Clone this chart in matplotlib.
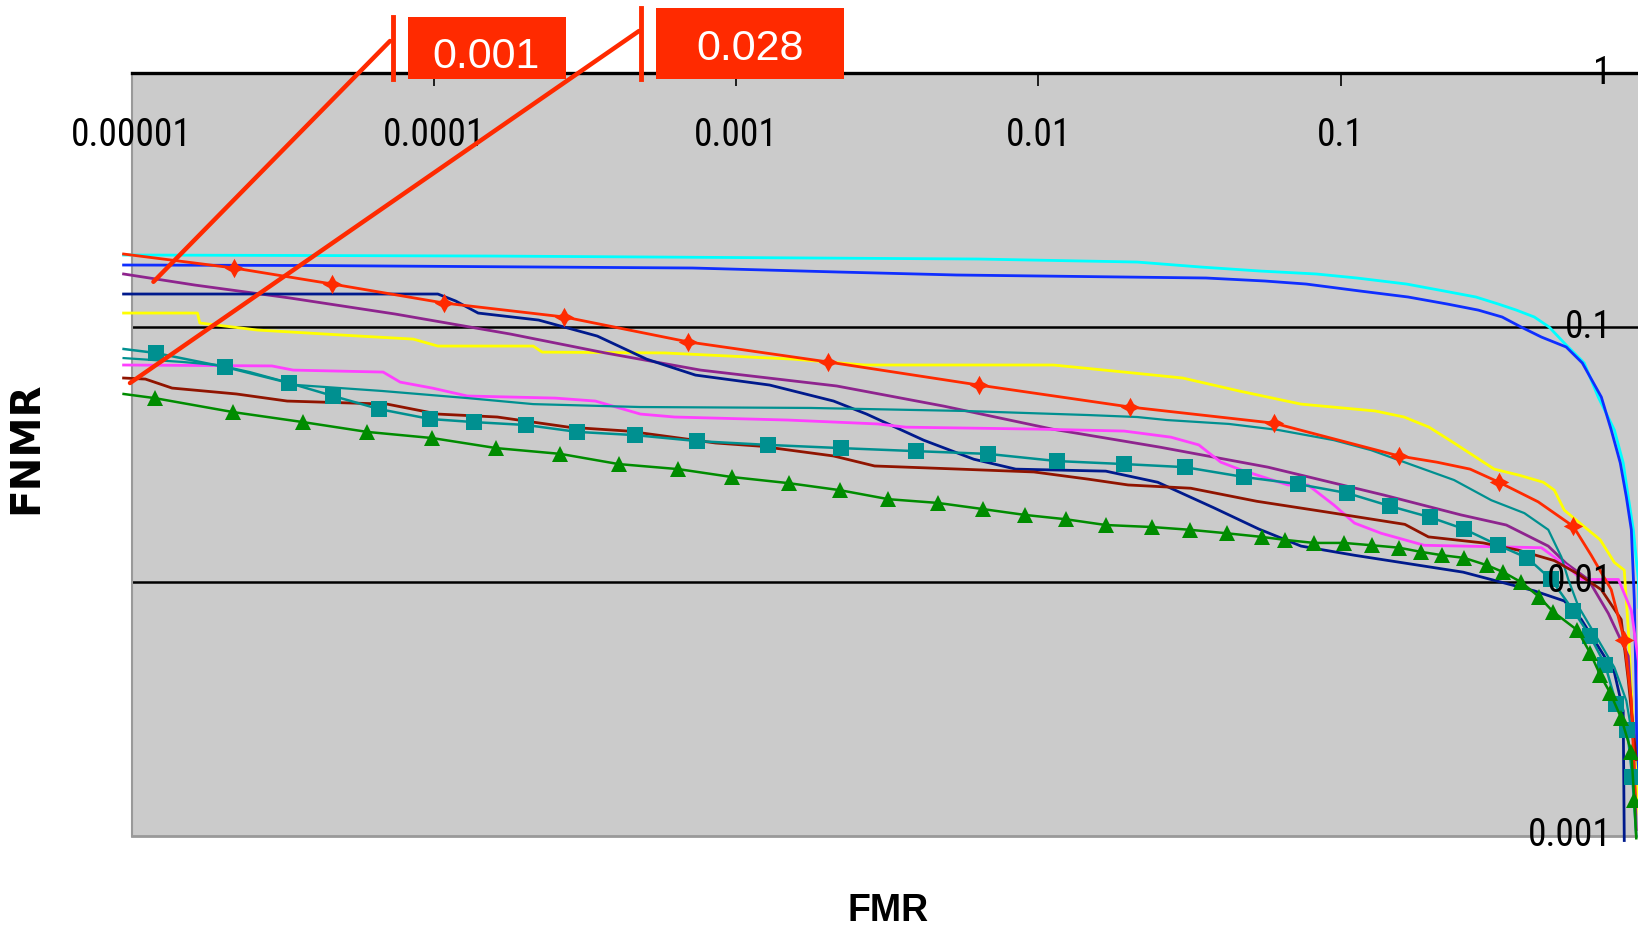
import matplotlib
matplotlib.use("Agg")
import matplotlib.pyplot as plt
from matplotlib.lines import Line2D
from matplotlib.patches import Rectangle
from matplotlib.ticker import FixedLocator, NullLocator
from matplotlib import font_manager

W, H = 1638, 927

# DET curves: FMR (x) vs FNMR (y), both log scale
cyan_fmr = [9.4e-6, 1.54e-4, 6.3e-3, 0.0212, 0.0345, 0.054, 0.083, 0.113, 0.165, 0.22, 0.28, 0.332,
            0.381, 0.437, 0.489, 0.557, 0.639, 0.711, 0.804, 0.86, 0.894, 0.929, 0.965, 0.987]
cyan_fnmr = [0.1925, 0.1907, 0.1856, 0.1806, 0.1726, 0.1665, 0.1621, 0.1563, 0.148, 0.1389, 0.1316, 0.1235,
             0.1169, 0.1098, 0.1003, 0.0852, 0.0724, 0.0532, 0.0395, 0.0293, 0.0215, 0.016, 0.0102, 0.0034]

blue_fmr = [9.4e-6, 3.9e-5, 7.17e-4, 2.18e-3, 5.36e-3, 0.0358, 0.0561, 0.0768, 0.116, 0.167, 0.225, 0.285,
            0.342, 0.395, 0.461, 0.557, 0.63, 0.728, 0.785, 0.841, 0.881, 0.915, 0.936, 0.95, 0.957]
blue_fnmr = [0.1758, 0.175, 0.1711, 0.165, 0.1606, 0.1563, 0.1521, 0.148, 0.1389, 0.1316, 0.1235, 0.1169,
             0.1098, 0.1003, 0.0916, 0.0837, 0.0724, 0.0532, 0.0395, 0.0293, 0.0215, 0.016, 0.00847, 0.00342, 0.00138]

red_fmr = [9.4e-6, 2.18e-5, 4.61e-5, 1.08e-4, 2.70e-4, 6.95e-4, 2.01e-3, 6.34e-3, 2.01e-2, 0.0601, 0.156,
           0.208, 0.268, 0.334, 0.45, 0.588, 0.674, 0.785, 0.867, 0.915, 0.943]
red_fnmr = [0.1942, 0.1711, 0.148, 0.1246, 0.1098, 0.0876, 0.0731, 0.0593, 0.0486, 0.042, 0.0312,
            0.0295, 0.0277, 0.0246, 0.0206, 0.0165, 0.0127, 0.0093, 0.0059, 0.0034, 0.0014]
red_marks = [1, 2, 3, 4, 5, 6, 7, 8, 9, 10, 13, 15, 18]

purple_fmr = [9.4e-6, 1.62e-5, 3.34e-5, 7.44e-5, 1.79e-4, 3.69e-4, 7.62e-4, 2.15e-3, 4.86e-3, 1.11e-2, 2.52e-2,
              0.0574, 0.139, 0.25, 0.353, 0.486, 0.557, 0.659, 0.768, 0.894, 0.929, 0.95]
purple_fnmr = [0.1621, 0.1466, 0.1304, 0.1128, 0.0941, 0.0793, 0.0679, 0.0588, 0.049, 0.0398, 0.0338,
               0.0282, 0.0219, 0.0183, 0.0167, 0.0138, 0.0118, 0.0102, 0.0075, 0.0051, 0.0024, 0.00106]

navy_fmr = [9.4e-6, 1.03e-4, 1.18e-4, 1.40e-4, 2.22e-4, 3.47e-4, 5.05e-4, 7.33e-4, 1.29e-3, 2.10e-3, 2.70e-3,
            4.17e-3, 6.11e-3, 8.41e-3, 1.67e-2, 2.48e-2, 3.81e-2, 5.36e-2, 7.39e-2, 0.111, 0.254, 0.437,
            0.549, 0.625, 0.804, 0.86, 0.867]
navy_fnmr = [0.1352, 0.1352, 0.1269, 0.1138, 0.1068, 0.0924, 0.075, 0.0649, 0.0593, 0.0513, 0.0456,
             0.036, 0.0303, 0.0277, 0.0272, 0.0246, 0.0195, 0.0161, 0.0138, 0.0127, 0.0109, 0.0092,
             0.0084, 0.0071, 0.0044, 0.0031, 0.00096]

yellow_fmr = [9.4e-6, 1.65e-5, 1.68e-5, 2.60e-5, 5.66e-5, 8.54e-5, 1.03e-4, 2.13e-4, 2.28e-4, 5.79e-4, 1.54e-3,
              2.66e-3, 1.12e-2, 1.92e-2, 3.0e-2, 4.61e-2, 7.39e-2, 0.13, 0.162, 0.196, 0.237, 0.322, 0.39,
              0.468, 0.509, 0.549, 0.722, 0.804, 0.867, 0.894, 0.936, 0.98]
yellow_fnmr = [0.1138, 0.1138, 0.104, 0.0976, 0.0924, 0.0899, 0.0844, 0.0844, 0.0799, 0.0793, 0.075,
               0.0711, 0.0711, 0.0667, 0.0632, 0.0562, 0.0499, 0.0469, 0.0444, 0.0405, 0.0351, 0.0277, 0.0262,
               0.0246, 0.0229, 0.0191, 0.0146, 0.0119, 0.0111, 0.0065, 0.0022, 0.00103]

teal_fmr = [9.4e-6, 1.47e-5, 1.92e-5, 2.46e-5, 3.53e-5, 6.74e-5, 1.29e-4, 2.13e-4, 4.82e-4, 1.76e-3, 5.70e-3,
            1.46e-2, 2.12e-2, 2.66e-2, 4.27e-2, 6.2e-2, 9.5e-2, 0.126, 0.165, 0.237, 0.315, 0.405, 0.486,
            0.537, 0.566, 0.611, 0.711, 0.804, 0.881, 0.95]
teal_fnmr = [0.0757, 0.0731, 0.0711, 0.0667, 0.0593, 0.0562, 0.0527, 0.0499, 0.0486, 0.0482, 0.0469,
             0.0452, 0.0444, 0.0432, 0.0417, 0.0395, 0.036, 0.0329, 0.0293, 0.0251, 0.0209, 0.0186, 0.016,
             0.0125, 0.0102, 0.0080, 0.0059, 0.0046, 0.0034, 0.0020]

tealsq_fmr = [9.4e-6, 1.2e-5, 2.04e-5, 3.32e-5, 4.64e-5, 6.59e-5, 9.72e-5, 1.36e-4, 2.02e-4, 2.98e-4, 4.61e-4,
              7.44e-4, 1.27e-3, 2.23e-3, 3.93e-3, 6.8e-3, 1.15e-2, 1.92e-2, 3.05e-2, 4.78e-2, 7.22e-2, 0.105,
              0.146, 0.198, 0.256, 0.332, 0.414, 0.497, 0.588, 0.669, 0.75, 0.816, 0.887, 0.922, 0.95]
tealsq_fnmr = [0.0822, 0.0793, 0.0698, 0.0604, 0.0537, 0.0477, 0.0436, 0.0424, 0.0413, 0.0388, 0.0377,
               0.0357, 0.0345, 0.0335, 0.0326, 0.0318, 0.0298, 0.029, 0.0282, 0.0258, 0.0242, 0.0223,
               0.0198, 0.0179, 0.0161, 0.0139, 0.0124, 0.0102, 0.0077, 0.0061, 0.0047, 0.0033, 0.0026, 0.0017,
               0.0010]

magenta_fmr = [9.4e-6, 2.91e-5, 3.42e-5, 6.79e-5, 7.73e-5, 9.87e-5, 1.29e-4, 2.52e-4, 3.42e-4, 4.82e-4, 6.25e-4,
               1.48e-3, 2.94e-3, 3.64e-3, 9.87e-3, 1.92e-2, 2.74e-2, 3.39e-2, 4.01e-2, 4.68e-2, 6.69e-2, 7.79e-2,
               9.5e-2, 0.111, 0.136, 0.189, 0.461, 0.566, 0.625, 0.829, 0.915, 0.965, 0.987]
magenta_fnmr = [0.0711, 0.0705, 0.0679, 0.0667, 0.0609, 0.0577, 0.0537, 0.0527, 0.0513, 0.0456, 0.0444,
                0.0432, 0.0417, 0.0405, 0.0398, 0.0391, 0.037, 0.0345, 0.0295, 0.0275, 0.024, 0.024,
                0.02, 0.017, 0.0155, 0.0139, 0.0136, 0.0114, 0.0102, 0.0102, 0.0077, 0.0049, 0.002]

darkred_fmr = [9.4e-6, 1.11e-5, 1.36e-5, 2.22e-5, 3.27e-5, 7.0e-5, 1.03e-4, 1.62e-4, 2.79e-4, 4.37e-4, 8.54e-4,
               1.2e-3, 2.1e-3, 2.87e-3, 5.49e-3, 9.66e-3, 1.46e-2, 1.98e-2, 3.19e-2, 5.28e-2, 8.94e-2, 0.163,
               0.195, 0.296, 0.387, 0.509, 0.611, 0.728, 0.847, 0.894, 0.95]
darkred_fnmr = [0.0632, 0.0626, 0.0577, 0.0547, 0.0513, 0.0499, 0.0456, 0.0444, 0.0405, 0.0391, 0.0351,
                0.0341, 0.0312, 0.0285, 0.0277, 0.027, 0.0253, 0.024, 0.0233, 0.0207, 0.0188, 0.0168,
                0.015, 0.0142, 0.0133, 0.0121, 0.0107, 0.0093, 0.0071, 0.0041, 0.002]

green_fmr = [9.4e-6, 1.19e-5, 2.17e-5, 3.69e-5, 6.01e-5, 9.87e-5, 1.61e-4, 2.62e-4, 4.08e-4, 6.44e-4,
             9.65e-4, 1.49e-3, 2.2e-3, 3.19e-3, 4.64e-3, 6.54e-3, 9.01e-3, 1.23e-2, 1.67e-2, 2.37e-2,
             3.16e-2, 4.19e-2, 5.47e-2, 6.54e-2, 8.16e-2, 0.1025, 0.127, 0.156, 0.184, 0.217,
             0.256, 0.305, 0.345, 0.395, 0.454, 0.505, 0.606, 0.669, 0.722, 0.779, 0.847, 0.915, 0.936, 0.95]
green_fnmr = [0.0547, 0.0527, 0.0464, 0.0424, 0.0388, 0.0367, 0.0335, 0.0318, 0.029, 0.0277,
              0.0258, 0.0244, 0.0229, 0.0211, 0.0204, 0.0193, 0.0183, 0.0176, 0.0167, 0.0164,
              0.016, 0.0155, 0.015, 0.0146, 0.0142, 0.0142, 0.0139, 0.0136, 0.0131, 0.0127,
              0.0124, 0.0116, 0.0109, 0.00996, 0.0087, 0.0076, 0.00645, 0.00524, 0.00429, 0.00365,
              0.00291, 0.00214, 0.00138, 0.00098]

x_ticks = [1e-5, 1e-4, 1e-3, 1e-2, 1e-1]
x_tick_labels = ["0.00001", "0.0001", "0.001", "0.01", "0.1"]
y_ticks = [1, 0.1, 0.01, 0.001]
y_tick_labels = ["1", "0.1", "0.01", "0.001"]

callout_labels = ["0.001", "0.028"]
callout_targets = [(1.18e-5, 0.151), (9.87e-6, 0.0604)]   # points on the curves the callouts point at

RED = "#FF2A00"
BG = "#CBCBCB"

# narrow face for the tick numbers if one is installed, else a smaller regular face
installed = {f.name for f in font_manager.fontManager.ttflist}
narrow = [n for n in ["Liberation Sans Narrow", "DejaVu Sans Condensed", "Roboto Condensed"]
          if n in installed]
if narrow:
    TICK_FONT = dict(family=narrow[0], fontsize=27)
else:
    condensed = [f for f in font_manager.fontManager.ttflist
                 if f.stretch in ("condensed", "semi-condensed") and f.weight in (400, "normal")]
    if condensed:
        TICK_FONT = dict(family=condensed[0].name, fontstretch=condensed[0].stretch, fontsize=27)
    else:
        TICK_FONT = dict(family="Liberation Sans", fontsize=21)

fig = plt.figure(figsize=(W / 100, H / 100), dpi=100)
ax = fig.add_axes([131.7 / W, 1 - 836 / H, 1511.3 / W, 763 / H])
ax.set_facecolor(BG)
ax.set_xscale("log")
ax.set_yscale("log")
ax.set_xlim(1e-5, 1)
ax.set_ylim(1e-3, 1)

series = [
    # fmr, fnmr, colour, lw, marker, size, markevery
    (cyan_fmr, cyan_fnmr, "#00FFFF", 2.0, None, 0, None),
    (blue_fmr, blue_fnmr, "#0F2EFF", 2.0, None, 0, None),
    (yellow_fmr, yellow_fnmr, "#FFFF00", 2.0, None, 0, None),
    (purple_fmr, purple_fnmr, "#8E248E", 2.0, None, 0, None),
    (navy_fmr, navy_fnmr, "#001A8C", 2.0, None, 0, None),
    (magenta_fmr, magenta_fnmr, "#FF40FF", 2.0, None, 0, None),
    (teal_fmr, teal_fnmr, "#009090", 1.6, None, 0, None),
    (darkred_fmr, darkred_fnmr, "#901400", 2.0, None, 0, None),
    (red_fmr, red_fnmr, RED, 2.0, (4, 1, 0), 14, red_marks),
    (tealsq_fmr, tealsq_fnmr, "#009090", 1.8, "s", 11, list(range(1, len(tealsq_fmr) - 1))),
    (green_fmr, green_fnmr, "#008C00", 1.8, "^", 11, list(range(1, len(green_fmr) - 1))),
]
for fmr, fnmr, col, lw, mk, ms, every in series:
    ax.plot(fmr, fnmr, color=col, lw=lw, marker=mk, ms=ms, markevery=every,
            mec=col, mfc=col, mew=0, clip_on=False, zorder=3)

# axes cosmetics: Excel-like frame
ax.spines["right"].set_visible(False)
ax.spines["top"].set_color("black")
ax.spines["top"].set_linewidth(2.4)
ax.spines["left"].set_color("#999999")
ax.spines["left"].set_linewidth(1.5)
ax.spines["bottom"].set_color("#999999")
ax.spines["bottom"].set_linewidth(2.0)

ax.xaxis.set_major_locator(FixedLocator(x_ticks + [1]))
ax.xaxis.set_minor_locator(NullLocator())
ax.tick_params(axis="x", which="major", top=True, bottom=False, labeltop=False, labelbottom=False,
               direction="in", length=9.5, width=1.2, color="black")
ax.yaxis.set_major_locator(FixedLocator([0.1, 0.01]))
ax.yaxis.set_minor_locator(NullLocator())
ax.tick_params(axis="y", which="major", left=False, right=False, labelleft=False, labelright=False)
ax.grid(True, axis="y", which="major", color="black", lw=1.8)
ax.set_axisbelow(True)

# tick labels sit inside the plot area
for v, lab in zip(x_ticks, x_tick_labels):
    ax.text(v, 0.918, lab, transform=ax.get_xaxis_transform(), ha="center", va="center",
            zorder=6, **TICK_FONT)
for v, lab in zip(y_ticks, y_tick_labels):
    ax.text(0.9795, v, lab, transform=ax.get_yaxis_transform(), ha="right", va="center",
            zorder=6, clip_on=False, **TICK_FONT)

ax.set_ylabel("FNMR", fontsize=29, fontweight="bold", family="DejaVu Sans", va="center")
ax.yaxis.set_label_coords(-0.0696, 0.5085)
ax.set_xlabel("FMR", fontsize=27, fontweight="bold", family="Liberation Sans", va="center")
ax.xaxis.set_label_coords(0.5004, -0.098)

# red callouts at the top
boxes = [(408, 566, 17, 79), (656, 844, 8, 79)]
text_centres = [(486, 57), (750, 49)]
bars = [(393, 17, 79), (641, 8, 79)]
leader_tops = [(390, 41), (639, 31)]
for lab, (x0, x1, yt, yb), (tx, ty), (bx, b0, b1), (lx, ly), tgt in zip(
        callout_labels, boxes, text_centres, bars, leader_tops, callout_targets):
    fig.add_artist(Rectangle((x0 / W, 1 - yb / H), (x1 - x0) / W, (yb - yt) / H,
                             transform=fig.transFigure, facecolor=RED, edgecolor="none", zorder=10))
    fig.text(tx / W, 1 - ty / H, lab, color="white", fontsize=31, family="Liberation Sans",
             ha="center", va="center", zorder=11)
    fig.add_artist(Line2D([bx / W, bx / W], [1 - b0 / H, 1 - b1 / H], transform=fig.transFigure,
                          color=RED, lw=3.5, zorder=10))
    ax.annotate("", xy=tgt, xycoords="data", xytext=(lx, H - ly), textcoords="figure pixels",
                arrowprops=dict(arrowstyle="-", color=RED, lw=3.2, shrinkA=0, shrinkB=0),
                annotation_clip=False, zorder=10)

fig.savefig("out.png", dpi=100, facecolor="white")
